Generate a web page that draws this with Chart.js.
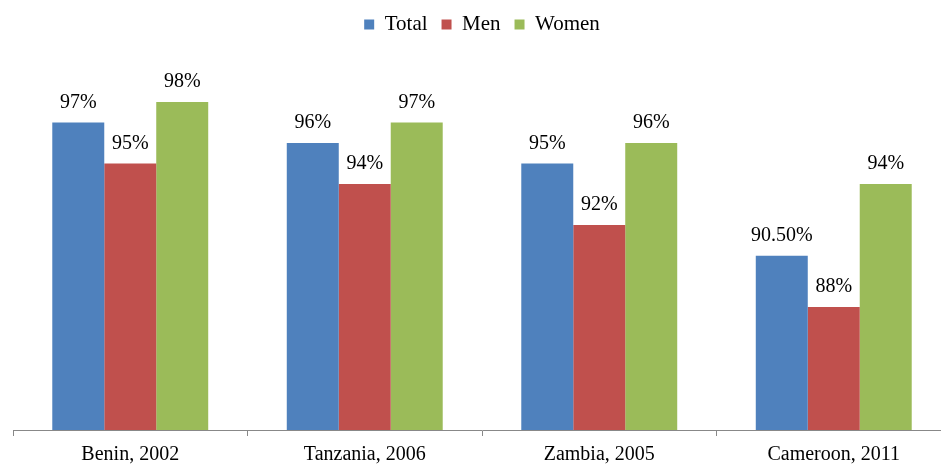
<!DOCTYPE html>
<html>
<head>
<meta charset="utf-8">
<script src="https://cdn.jsdelivr.net/npm/chart.js@4"></script>
<style>
  html, body { margin: 0; padding: 0; background: #fff; overflow: hidden; }
  #wrap { width: 960px; height: 465px; position: relative; }
</style>
</head>
<body>
<div id="wrap"><canvas id="chart"></canvas></div>
<script>
// Survey values (%)
const categories = ['Benin, 2002', 'Tanzania, 2006', 'Zambia, 2005', 'Cameroon, 2011'];
const totalValues = [97, 96, 95, 90.5];
const menValues = [95, 94, 92, 88];
const womenValues = [98, 97, 96, 94];
// labels as printed above the bars
const totalLabels = ['97%', '96%', '95%', '90.50%'];
const menLabels = ['95%', '94%', '92%', '88%'];
const womenLabels = ['98%', '97%', '96%', '94%'];

const FONT = '"Liberation Serif", "Times New Roman", serif';

// draw the value text above each bar
const barLabels = {
    id: 'barLabels',
    afterDatasetsDraw(chart) {
        const ctx = chart.ctx;
        ctx.save();
        ctx.font = '20px ' + FONT;
        ctx.fillStyle = '#000';
        ctx.textAlign = 'center';
        ctx.textBaseline = 'alphabetic';
        chart.data.datasets.forEach((ds, i) => {
            chart.getDatasetMeta(i).data.forEach((bar, j) => {
                ctx.fillText(ds.valueLabels[j], bar.x, bar.y - 15);
            });
        });
        ctx.restore();
    }
};

// extra room under the legend
const legendGap = {
    id: 'legendGap',
    beforeInit(chart) {
        const fit = chart.legend.fit;
        chart.legend.fit = function () {
            fit.bind(chart.legend)();
            this.height += 16;
        };
    }
};

new Chart(document.getElementById('chart'), {
    type: 'bar',
    data: {
        labels: categories,
        datasets: [
            { label: 'Total', data: totalValues, valueLabels: totalLabels, backgroundColor: '#4F81BD' },
            { label: 'Men', data: menValues, valueLabels: menLabels, backgroundColor: '#C0504D' },
            { label: 'Women', data: womenValues, valueLabels: womenLabels, backgroundColor: '#9BBB59' }
        ]
    },
    options: {
        responsive: true,
        maintainAspectRatio: false,
        animation: false,
        categoryPercentage: 0.665,
        barPercentage: 1.0,
        layout: { padding: { left: 13, right: 9, top: 0, bottom: -9 } },
        plugins: {
            legend: {
                position: 'top',
                labels: {
                    boxWidth: 10,
                    boxHeight: 10,
                    padding: 14,
                    color: '#000',
                    font: { family: FONT, size: 21 }
                }
            },
            tooltip: { enabled: false }
        },
        scales: {
            x: {
                grid: { display: true, drawOnChartArea: false, tickLength: 6, color: '#888' },
                border: { display: true, color: '#888', width: 1 },
                ticks: { color: '#000', font: { family: FONT, size: 20, lineHeight: 1.0 }, padding: 9 }
            },
            y: {
                display: false,
                min: 82,
                max: 100
            }
        }
    },
    plugins: [barLabels, legendGap]
});
</script>
</body>
</html>
